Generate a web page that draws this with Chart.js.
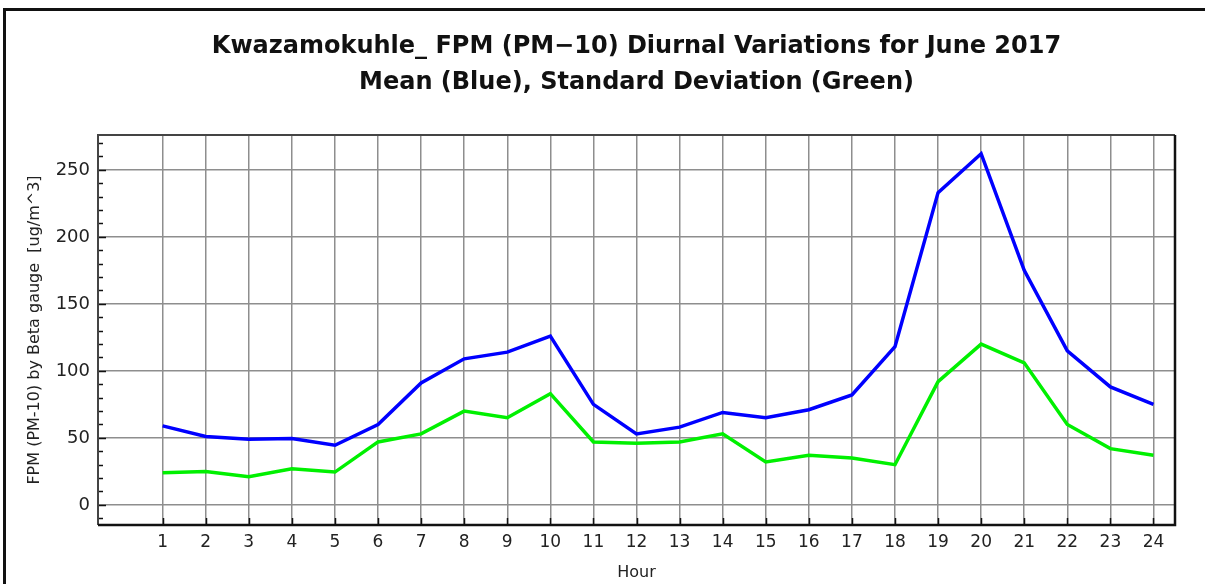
<!DOCTYPE html>
<html>
<head>
<meta charset="utf-8">
<script src="https://cdn.jsdelivr.net/npm/chart.js@4/dist/chart.umd.min.js"></script>
<style>
    html, body { margin: 0; padding: 0; background: #fff; }
    #wrap { position: relative; width: 1205px; height: 584px; }
    #frame {
        position: absolute; left: 3px; top: 8px; width: 1202px; height: 576px;
        border-top: 3px solid #111; border-left: 3px solid #111; box-sizing: border-box;
    }
</style>
</head>
<body>
<div id="wrap">
    <div id="frame"></div>
    <canvas id="fpmChart" width="1205" height="584"></canvas>
</div>
<script>
// 시간 (1~24)
const hours = [1, 2, 3, 4, 5, 6, 7, 8, 9, 10, 11, 12, 13, 14, 15, 16, 17, 18, 19, 20, 21, 22, 23, 24];
// 평균 (파란색)
const meanValues = [59, 51, 49, 49.5, 44.5, 60, 91, 109, 114, 126, 75, 53, 58, 69, 65, 71, 82, 118, 233, 262, 175, 115, 88, 75];
// 표준편차 (초록색)
const sdValues = [24, 25, 21, 27, 24.5, 47, 53, 70, 65, 83, 47, 46, 47, 53, 32, 37, 35, 30, 92, 120, 106, 60, 42, 37];
const yTickLabels = [0, 50, 100, 150, 200, 250];
const yMinorTicks = [-10, 0, 10, 20, 30, 40, 50, 60, 70, 80, 90, 100, 110, 120, 130, 140, 150, 160, 170, 180, 190, 200, 210, 220, 230, 240, 250, 260, 270];

const titleLines = ['Kwazamokuhle_ FPM (PM\u221210) Diurnal Variations for June 2017', 'Mean (Blue), Standard Deviation (Green)'];
const fontFamily = '"DejaVu Sans", Verdana, sans-serif';

// 테두리와 안쪽 눈금을 그리는 플러그인
const frameTicks = {
    id: 'frameTicks',
    afterDatasetsDraw(chart) {
        const c = chart.ctx;
        const a = chart.chartArea;
        const x = chart.scales.x;
        const y = chart.scales.y;
        c.save();
        c.strokeStyle = '#111';
        c.lineWidth = 1.5;
        yMinorTicks.forEach(v => {
            const py = Math.round(y.getPixelForValue(v)) + 0.5;
            const len = yTickLabels.includes(v) ? 8 : 5;
            c.beginPath();
            c.moveTo(a.left, py);
            c.lineTo(a.left + len, py);
            c.stroke();
        });
        hours.forEach(h => {
            const px = Math.round(x.getPixelForValue(h)) + 0.5;
            c.beginPath();
            c.moveTo(px, a.bottom);
            c.lineTo(px, a.bottom - 7);
            c.stroke();
        });
        c.lineWidth = 2;
        c.strokeStyle = '#444';
        c.beginPath();
        c.moveTo(a.left, a.bottom);
        c.lineTo(a.left, a.top);
        c.lineTo(a.right, a.top);
        c.stroke();
        c.strokeStyle = '#111';
        c.lineWidth = 2.5;
        c.beginPath();
        c.moveTo(a.left, a.bottom);
        c.lineTo(a.right, a.bottom);
        c.lineTo(a.right, a.top);
        c.stroke();
        c.restore();
    }
};

const ctx = document.getElementById('fpmChart').getContext('2d');
const fpmChart = new Chart(ctx, {
    type: 'line',
    data: {
        datasets: [
            {
                label: 'Mean',
                data: hours.map((h, i) => ({ x: h, y: meanValues[i] })),
                borderColor: '#0000ff',
                borderWidth: 3.5,
                pointRadius: 0,
                tension: 0,
                fill: false
            },
            {
                label: 'Standard Deviation',
                data: hours.map((h, i) => ({ x: h, y: sdValues[i] })),
                borderColor: '#00f000',
                borderWidth: 3.5,
                pointRadius: 0,
                tension: 0,
                fill: false
            }
        ]
    },
    options: {
        responsive: false,
        animation: false,
        layout: { padding: { left: 0, right: 30, top: 0, bottom: 0 } },
        plugins: {
            legend: { display: false },
            tooltip: { enabled: false },
            title: {
                display: true,
                fullSize: false,
                text: titleLines,
                color: '#111',
                font: { family: fontFamily, size: 24, weight: 'bold', lineHeight: 1.5 },
                padding: { top: 29, bottom: 34 }
            }
        },
        scales: {
            x: {
                type: 'linear',
                min: -0.5,
                max: 24.5,
                afterBuildTicks: scale => {
                    scale.ticks = hours.map(h => ({ value: h }));
                },
                afterFit: scale => { scale.height = 59; },
                grid: { color: '#8e8e8e', lineWidth: 1.5, drawTicks: false },
                border: { display: false },
                ticks: {
                    padding: 7,
                    color: '#222',
                    font: { family: fontFamily, size: 17 },
                    maxRotation: 0,
                    autoSkip: false
                },
                title: {
                    display: true,
                    text: 'Hour',
                    color: '#222',
                    font: { family: fontFamily, size: 16 },
                    padding: { top: 0, bottom: 1.5 }
                }
            },
            y: {
                type: 'linear',
                min: -15,
                max: 276,
                afterBuildTicks: scale => {
                    scale.ticks = yTickLabels.map(v => ({ value: v }));
                },
                afterFit: scale => { scale.width = 98; },
                grid: { color: '#8e8e8e', lineWidth: 1.5, drawTicks: false },
                border: { display: false },
                ticks: {
                    padding: 8,
                    color: '#222',
                    font: { family: fontFamily, size: 18 }
                },
                title: {
                    display: true,
                    text: 'FPM (PM-10) by Beta gauge  [ug/m^3]',
                    color: '#222',
                    font: { family: fontFamily, size: 16 },
                    padding: { top: 25, bottom: 0 }
                }
            }
        }
    },
    plugins: [frameTicks]
});
</script>
</body>
</html>
